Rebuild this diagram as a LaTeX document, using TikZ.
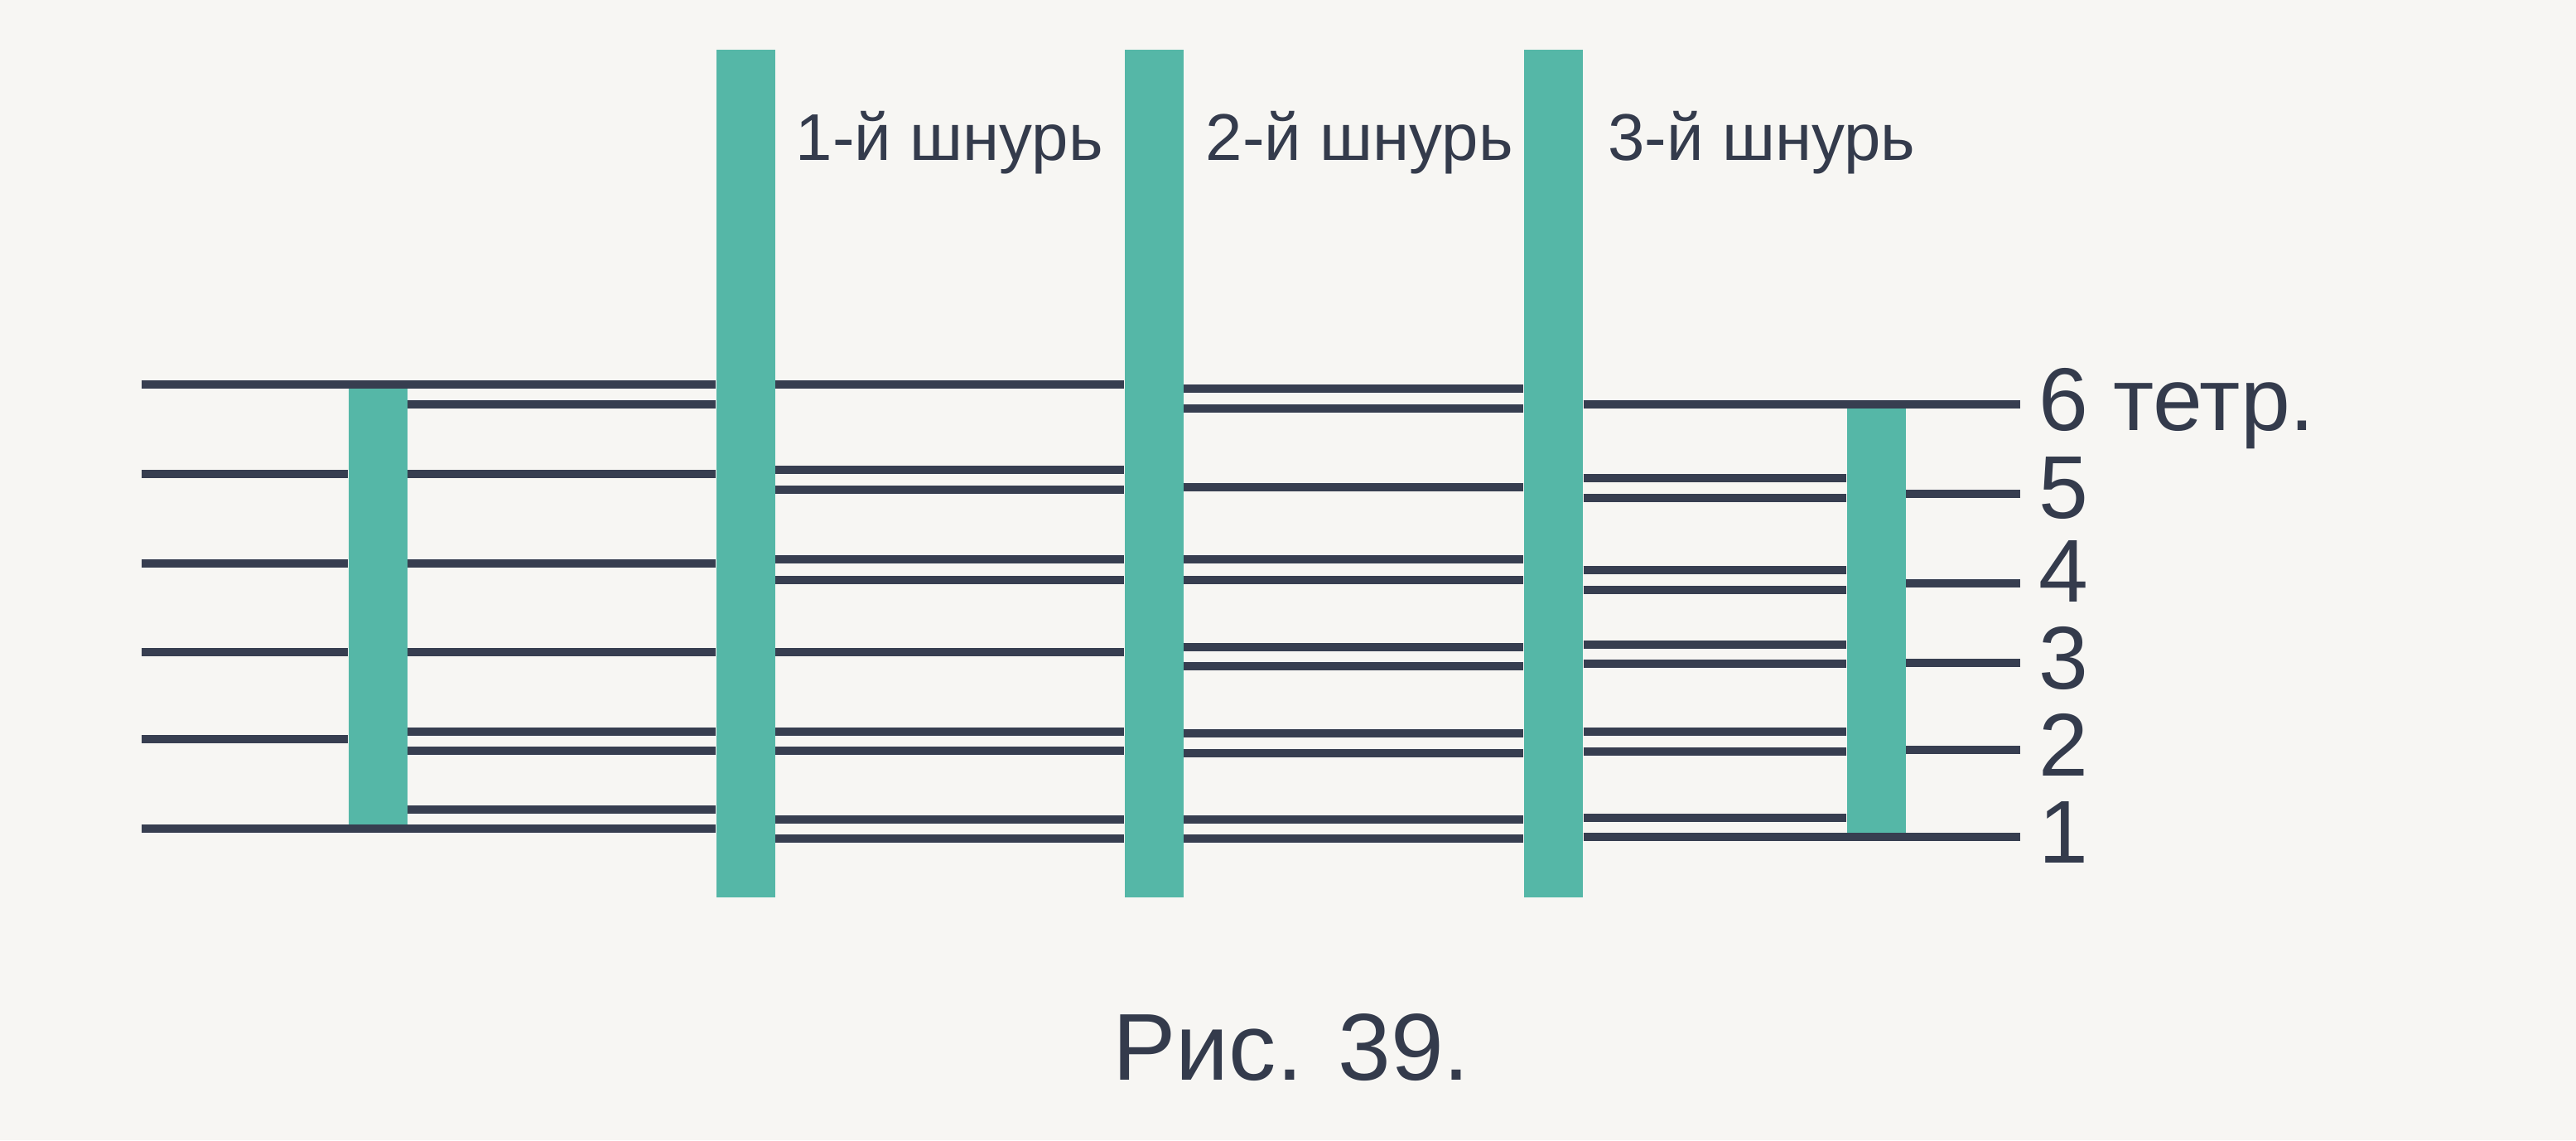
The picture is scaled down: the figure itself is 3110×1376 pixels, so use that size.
\documentclass[tikz,border=0pt]{standalone}
\usepackage{fontspec}
\setmainfont{Liberation Sans}
\usepackage{tikz}
\definecolor{paper}{HTML}{F7F6F3}
\definecolor{cordgreen}{HTML}{55B7A7}
\definecolor{threadnavy}{HTML}{373E50}
\definecolor{inknavy}{HTML}{343B4C}

\begin{document}
\begin{tikzpicture}[x=0.1mm, y=-0.1mm,
  cord/.style={fill=cordgreen, inner sep=0pt, minimum width=7.1mm},
  thread/.style={line width=1mm, threadnavy},
  lbl/.style={inknavy, inner sep=0pt, anchor=base west, font=\fontsize{30.6}{36}\selectfont},
  cordname/.style={inknavy, inner sep=0pt, anchor=base west, font=\fontsize{22.7}{27}\selectfont}]
\fill[paper] (0,0) rectangle (3110,1376);
\useasboundingbox (0,0) rectangle (3110,1376);
% cords
\node[cord, minimum height=53.6mm] (c0) at (456,732) {};
\node[cord, minimum height=102.3mm] (c1) at (900,571.5) {};
\node[cord, minimum height=102.3mm] (c2) at (1393,571.5) {};
\node[cord, minimum height=102.3mm] (c3) at (1875.5,571.5) {};
\node[cord, minimum height=52.2mm] (c4) at (2265,749) {};
\coordinate (lft) at (171,0);
\coordinate (rgt) at (2439,0);
%
\foreach \y in {572,680,787,892} \draw[thread] (lft |- 0,\y) -- (c0.west |- 0,\y);
\foreach \y in {464,1000} \draw[thread] (lft |- 0,\y) -- (c1.west |- 0,\y);
\foreach \y in {488,572,680,787,883,906,977} \draw[thread] (c0.east |- 0,\y) -- (c1.west |- 0,\y);
%
\foreach \y in {464,567,591,675,700,787,883,906,989,1012} \draw[thread] (c1.east |- 0,\y) -- (c2.west |- 0,\y);
%
\foreach \y in {469,493,588,675,700,781,804,885,909,989,1012} \draw[thread] (c2.east |- 0,\y) -- (c3.west |- 0,\y);
%
\foreach \y in {577,601,688,712,778,801,883,907,987} \draw[thread] (c3.east |- 0,\y) -- (c4.west |- 0,\y);
\foreach \y in {488,1010} \draw[thread] (c3.east |- 0,\y) -- (rgt |- 0,\y);
\foreach \y in {596,704,800,905} \draw[thread] (c4.east |- 0,\y) -- (rgt |- 0,\y);
% labels
\node[cordname] (t1) at ([xshift=2.4mm, yshift=-13.4mm]c1.north east) {1-й шнурь};
\node[cordname] (t2) at ([xshift=2.6mm, yshift=-13.4mm]c2.north east) {2-й шнурь};
\node[cordname] (t3) at ([xshift=2.9mm, yshift=-13.4mm]c3.north east) {3-й шнурь};
\node[lbl] (n6) at (2461,519) {6 тетр.};
\node[lbl] (n5) at (2461,625) {5};
\node[lbl] (n4) at (2461,726) {4};
\node[lbl] (n3) at (2461,831) {3};
\node[lbl] (n2) at (2461,936) {2};
\node[lbl] (n1) at (2461,1041) {1};
\node[inknavy, inner sep=0pt, anchor=base, font=\fontsize{32.6}{38}\selectfont] (cap) at (1559,1303) {Рис. 39.};
\end{tikzpicture}
\end{document}
